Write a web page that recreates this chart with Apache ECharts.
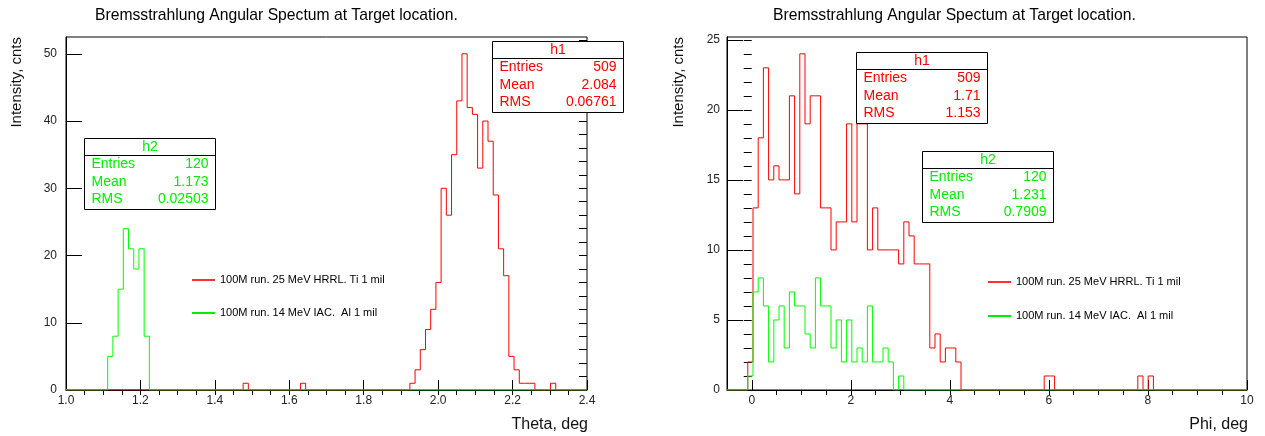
<!DOCTYPE html>
<html>
<head>
<meta charset="utf-8">
<title>Bremsstrahlung Angular Spectum</title>
<script src="https://cdn.jsdelivr.net/npm/echarts@6/dist/echarts.min.js"></script>
<style>
  html, body { margin: 0; padding: 0; background: #fff; }
  #chart { width: 1265px; height: 436px; }
</style>
</head>
<body>
<div id="chart"></div>
<script>
var titleText = 'Bremsstrahlung Angular Spectum at Target location.';
var nameRed = '100M run. 25 MeV HRRL. Ti 1 mil';
var nameGreen = '100M run. 14 MeV IAC.  Al 1 mil';

// histogram ranges (100 bins each)
var thetaMin = 1.0, thetaMax = 2.4, thetaBins = 100;
var phiMin = -0.5, phiMax = 10, phiBins = 100;

// Theta, h1 (red): bin index -> counts
var thetaH1Bin = [34, 45, 66, 67, 68, 69, 70, 71, 72, 73, 74, 75, 76, 77, 78, 79, 80, 81, 82, 83, 84, 85, 86, 87, 88, 89, 93];
var thetaH1Cnt = [1, 1, 1, 3, 6, 9, 12, 16, 30, 26, 35, 43, 50, 42, 41, 33, 40, 37, 29, 21, 17, 5, 3, 1, 1, 1, 1];
// Theta, h2 (green)
var thetaH2Bin = [8, 9, 10, 11, 12, 13, 14, 15];
var thetaH2Cnt = [5, 8, 15, 24, 21, 18, 21, 8];

// Phi, h1 (red)
var phiH1Bin = [4, 5, 6, 7, 8, 9, 10, 11, 12, 13, 14, 15, 16, 17, 18, 19, 20, 21, 22, 23, 24, 25, 26, 27, 28, 29, 30, 31, 32, 33, 34, 35, 36, 37, 38, 39, 40, 41, 42, 43, 44, 61, 62, 79, 81];
var phiH1Cnt = [2, 13, 18, 23, 15, 16, 15, 15, 21, 14, 24, 19, 21, 21, 13, 13, 10, 12, 12, 19, 12, 19, 19, 10, 13, 10, 10, 10, 10, 9, 12, 11, 9, 9, 9, 3, 4, 2, 3, 3, 2, 1, 1, 1, 1];
// Phi, h2 (green)
var phiH2Bin = [4, 5, 6, 7, 8, 9, 10, 11, 12, 13, 14, 15, 16, 17, 18, 19, 20, 21, 22, 23, 24, 25, 26, 27, 28, 29, 30, 31, 33];
var phiH2Cnt = [1, 7, 8, 6, 2, 5, 6, 3, 7, 6, 6, 4, 3, 8, 6, 6, 3, 5, 2, 5, 2, 3, 2, 6, 2, 2, 3, 2, 1];

// stats boxes
var statNames = ['Entries', 'Mean', 'RMS'];
var thetaH1Stats = ['509', '2.084', '0.06761'];
var thetaH2Stats = ['120', '1.173', '0.02503'];
var phiH1Stats = ['509', '1.71', '1.153'];
var phiH2Stats = ['120', '1.231', '0.7909'];

// axis ticks
var thetaLabels = [1.0, 1.2, 1.4, 1.6, 1.8, 2.0, 2.2, 2.4];
var phiLabels = [0, 2, 4, 6, 8, 10];
var thetaYLabels = [0, 10, 20, 30, 40, 50];
var phiYLabels = [0, 5, 10, 15, 20, 25];

var fontFam = '"Liberation Sans", Arial, Helvetica, sans-serif';

function range(a, b, step) {
  var out = [];
  for (var v = a; v <= b + 1e-9; v += step) out.push(Math.round(v * 1000) / 1000);
  return out;
}

// turn the bin counts into outline points (left edge of each bin)
function histLine(xmin, xmax, nbins, bins, counts) {
  var w = (xmax - xmin) / nbins;
  var c = [];
  for (var k = 0; k < nbins; k++) c.push(0);
  bins.forEach(function (b, i) { c[b] = counts[i]; });
  var pts = [];
  for (var k = 0; k < nbins; k++) pts.push([xmin + k * w, c[k]]);
  pts.push([xmax, 0]);
  return pts;
}

function mainX(grid, min, max, labels, fmt) {
  return {
    gridIndex: grid, type: 'value', min: min, max: max,
    axisLine: { show: true, onZero: false, lineStyle: { color: '#000', width: 1 } },
    axisTick: { show: true, inside: true, length: 10, customValues: labels, lineStyle: { color: '#000' } },
    axisLabel: { customValues: labels, formatter: fmt, margin: 5, fontSize: 12, color: '#222', fontFamily: fontFam },
    splitLine: { show: false }
  };
}
function minorX(grid, min, max, ticks) {
  return {
    gridIndex: grid, type: 'value', min: min, max: max,
    axisLine: { show: false },
    axisTick: { show: true, inside: true, length: 5, customValues: ticks, lineStyle: { color: '#000' } },
    axisLabel: { show: false },
    splitLine: { show: false }
  };
}
function mainY(grid, max, labels, margin) {
  return {
    gridIndex: grid, type: 'value', min: 0, max: max,
    axisLine: { show: true, onZero: false, lineStyle: { color: '#000', width: 1 } },
    axisTick: { show: true, inside: true, length: 16, customValues: labels, lineStyle: { color: '#000' } },
    axisLabel: { customValues: labels, margin: margin, fontSize: 12, color: '#222', fontFamily: fontFam },
    splitLine: { show: false }
  };
}
function minorY(grid, max, ticks) {
  return {
    gridIndex: grid, type: 'value', min: 0, max: max,
    axisLine: { show: false },
    axisTick: { show: true, inside: true, length: 8, customValues: ticks, lineStyle: { color: '#000' } },
    axisLabel: { show: false },
    splitLine: { show: false }
  };
}

function statsBox(x, y, title, values, color) {
  var txt = function (t, tx, ty, align) {
    return { type: 'text', x: tx, y: ty, z: 101, style: { text: t, fill: color, fontSize: 14, fontFamily: fontFam, align: align, verticalAlign: 'middle' } };
  };
  var children = [
    { type: 'rect', z: 100, shape: { x: 0, y: 0, width: 131, height: 71 }, style: { fill: '#fff', stroke: '#000', lineWidth: 1 } },
    { type: 'line', z: 101, shape: { x1: 0, y1: 17, x2: 131, y2: 17 }, style: { stroke: '#000', lineWidth: 1 } },
    txt(title, 65.5, 9, 'center')
  ];
  statNames.forEach(function (n, i) {
    children.push(txt(n, 7, 26 + i * 17.5, 'left'));
    children.push(txt(values[i], 124, 26 + i * 17.5, 'right'));
  });
  return { type: 'group', x: x + 0.5, y: y + 0.5, z: 100, children: children };
}

function axisName(t, x, y, rotated) {
  return {
    type: 'text', x: x, y: y, rotation: rotated ? Math.PI / 2 : 0, z: 100,
    style: { text: t, fill: '#111', fontSize: rotated ? 15 : 16, fontFamily: fontFam, align: 'right', verticalAlign: 'middle' }
  };
}

var chart = echarts.init(document.getElementById('chart'));

var titleStyle = { fontSize: 15.7, fontWeight: 'normal', color: '#000', fontFamily: fontFam };
var legendText = { fontSize: 11, lineHeight: 14, color: '#000', fontFamily: fontFam };

var option = {
  animation: false,
  backgroundColor: '#fff',
  title: [
    { text: titleText, left: 95, top: 8, padding: 0, textStyle: titleStyle },
    { text: titleText, left: 773, top: 8, padding: 0, textStyle: titleStyle }
  ],
  grid: [
    { left: 66, top: 37, width: 521, height: 353, show: true, borderColor: '#000', borderWidth: 1 },
    { left: 727, top: 37, width: 520, height: 353, show: true, borderColor: '#000', borderWidth: 1 }
  ],
  legend: [
    { left: 192, top: 273, padding: 0, orient: 'vertical', itemGap: 19, itemWidth: 23, itemHeight: 2, icon: 'rect',
      selectedMode: false, data: [nameRed, nameGreen], textStyle: legendText },
    { left: 988, top: 275, padding: 0, orient: 'vertical', itemGap: 20, itemWidth: 23, itemHeight: 2, icon: 'rect',
      selectedMode: false, data: [nameRed, nameGreen], textStyle: legendText }
  ],
  xAxis: [
    mainX(0, thetaMin, thetaMax, thetaLabels, function (v) { return v.toFixed(1); }),
    minorX(0, thetaMin, thetaMax, range(1.05, 2.35, 0.05)),
    mainX(1, phiMin, phiMax, phiLabels, function (v) { return String(v); }),
    minorX(1, phiMin, phiMax, range(0.5, 9.5, 0.5))
  ],
  yAxis: [
    mainY(0, 52.5, thetaYLabels, 9),
    minorY(0, 52.5, range(2, 52, 2)),
    mainY(1, 25.2, phiYLabels, 7),
    minorY(1, 25.2, range(1, 25, 1))
  ],
  series: [
    { name: nameRed, type: 'line', xAxisIndex: 0, yAxisIndex: 0, step: 'end', symbol: 'none', silent: true,
      data: histLine(thetaMin, thetaMax, thetaBins, thetaH1Bin, thetaH1Cnt),
      lineStyle: { color: '#ff0000', width: 1 }, itemStyle: { color: '#ff3030' } },
    { name: nameGreen, type: 'line', xAxisIndex: 0, yAxisIndex: 0, step: 'end', symbol: 'none', silent: true,
      data: histLine(thetaMin, thetaMax, thetaBins, thetaH2Bin, thetaH2Cnt),
      lineStyle: { color: '#00ff00', width: 1 }, itemStyle: { color: '#00ee00' } },
    { name: nameRed, type: 'line', xAxisIndex: 2, yAxisIndex: 2, step: 'end', symbol: 'none', silent: true,
      data: histLine(phiMin, phiMax, phiBins, phiH1Bin, phiH1Cnt),
      lineStyle: { color: '#ff0000', width: 1 }, itemStyle: { color: '#ff3030' } },
    { name: nameGreen, type: 'line', xAxisIndex: 2, yAxisIndex: 2, step: 'end', symbol: 'none', silent: true,
      data: histLine(phiMin, phiMax, phiBins, phiH2Bin, phiH2Cnt),
      lineStyle: { color: '#00ff00', width: 1 }, itemStyle: { color: '#00ee00' } }
  ],
  graphic: [
    axisName('Intensity, cnts', 17, 37, true),
    axisName('Intensity, cnts', 679, 37, true),
    axisName('Theta, deg', 588, 425, false),
    axisName('Phi, deg', 1248, 425, false),
    statsBox(492, 41, 'h1', thetaH1Stats, '#ff0000'),
    statsBox(84, 138, 'h2', thetaH2Stats, '#00ee00'),
    statsBox(856, 52, 'h1', phiH1Stats, '#ff0000'),
    statsBox(922, 151, 'h2', phiH2Stats, '#00ee00')
  ]
};

chart.setOption(option);
</script>
</body>
</html>
